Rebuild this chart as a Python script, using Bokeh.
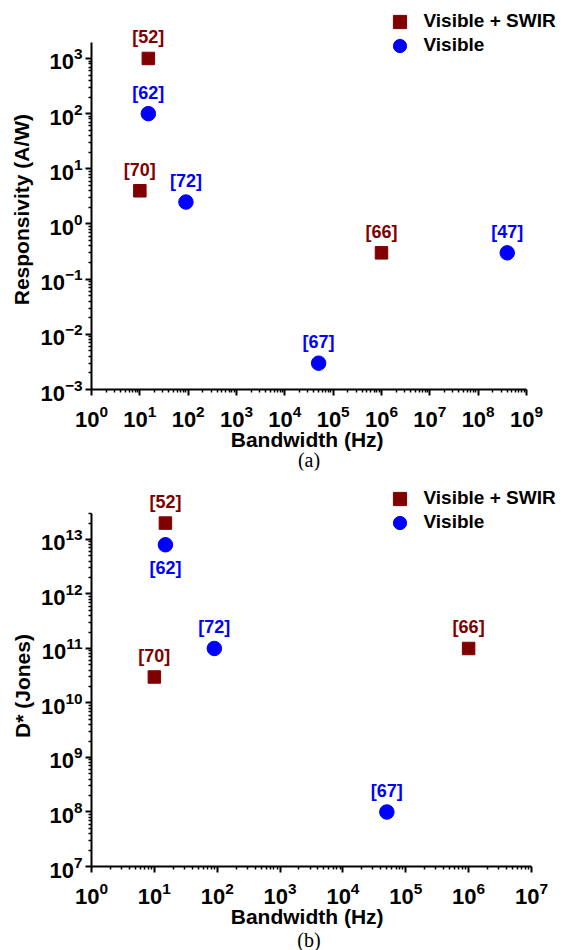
from bokeh.plotting import figure
from bokeh.models import (ColumnDataSource, Range1d, FixedTicker, LogTickFormatter,
                          LabelSet, Legend, LegendItem, Div)
from bokeh.core.properties import value
from bokeh.layouts import column
from bokeh.embed import file_html
from bokeh.resources import INLINE

# ---------------- data ----------------
# Panel (a): Responsivity (A/W) vs Bandwidth (Hz)
a_swir_bw = [15, 10, 1e6]
a_swir_resp = [1000, 4, 0.3]
a_swir_ref = ["[52]", "[70]", "[66]"]
a_vis_bw = [15, 90, 5e4, 4e8]
a_vis_resp = [100, 2.5, 0.003, 0.3]
a_vis_ref = ["[62]", "[72]", "[67]", "[47]"]

# Panel (b): D* (Jones) vs Bandwidth (Hz)
b_swir_bw = [15, 10, 1e6]
b_swir_dstar = [2e13, 3e10, 1e11]
b_swir_ref = ["[52]", "[70]", "[66]"]
b_vis_bw = [15, 90, 5e4]
b_vis_dstar = [8e12, 1e11, 1e8]
b_vis_ref = ["[62]", "[72]", "[67]"]

series_names = ["Visible + SWIR", "Visible"]

a_x_ticks = [10.0 ** k for k in range(0, 10)]
a_y_ticks = [10.0 ** k for k in range(-3, 4)]
b_x_ticks = [10.0 ** k for k in range(0, 8)]
b_y_ticks = [10.0 ** k for k in range(7, 14)]

# axis extents as drawn in the reference
a_x_bounds = (1, 1e9)
a_y_bounds = (1e-3, 1950)
b_x_bounds = (1, 1e7)
b_y_bounds = (1e7, 3e13)

# labels drawn below their marker (rest are above)
b_below = ["[62]"]

FONT = "Liberation Sans"
RED = "#800000"
BLUE = "#0000ff"
W = 569


def pad(n):
    # non-breaking spaces that centre a title under the drawn axis extent
    return "\u00a0" * n


def minor_list(lo, hi):
    out = []
    for k in range(-20, 20):
        for m in range(2, 10):
            v = m * 10.0 ** k
            if lo < v < hi * 1.0001:
                out.append(v)
    return out


def make_panel(xr, yr, xb, yb, xt, yt, swir, vis, ylabel, height, b_bottom, below=()):
    p = figure(width=W, height=height, x_axis_type="log", y_axis_type="log",
               x_range=Range1d(*xr), y_range=Range1d(*yr), output_backend="svg",
               toolbar_location=None, min_border_left=91, min_border_right=0,
               min_border_top=0, min_border_bottom=b_bottom)
    p.outline_line_color = None
    p.grid.visible = False
    p.background_fill_color = "white"
    p.border_fill_color = "white"

    p.xaxis.ticker = FixedTicker(ticks=xt, minor_ticks=minor_list(*xb))
    p.yaxis.ticker = FixedTicker(ticks=yt, minor_ticks=minor_list(*yb))
    p.xaxis.bounds = xb
    p.yaxis.bounds = yb
    for ax in (p.xaxis[0], p.yaxis[0]):
        ax.formatter = LogTickFormatter()
        ax.axis_line_width = 2
        ax.axis_line_color = "black"
        ax.major_tick_line_width = 2
        ax.minor_tick_line_width = 1.5
        ax.major_tick_out = 6
        ax.major_tick_in = 0
        ax.minor_tick_out = 3
        ax.minor_tick_in = 0
        ax.major_label_text_font = FONT
        ax.major_label_text_font_style = "bold"
        ax.major_label_text_font_size = "22px"
        ax.major_label_text_color = "black"
        ax.axis_label_text_font = FONT
        ax.axis_label_text_font_style = "bold"
        ax.axis_label_text_font_size = "21px"
        ax.axis_label_text_color = "black"
    p.xaxis.axis_label = "Bandwidth (Hz)" + pad(8)
    p.yaxis.axis_label = ylabel
    p.xaxis.major_label_standoff = 9
    p.xaxis.axis_label_standoff = -2
    p.yaxis.major_label_standoff = 3
    p.yaxis.axis_label_standoff = 4

    renderers = []
    for (xs, ys, refs), marker, color, size in ((swir, "square", RED, 12.5),
                                                 (vis, "circle", BLUE, 14.5)):
        dy = [-29 if r in below else 15 for r in refs]
        src = ColumnDataSource(dict(x=xs, y=ys, ref=refs, dy=dy))
        r = p.scatter("x", "y", source=src, marker=marker, size=size,
                      fill_color=color, line_color=color)
        renderers.append(r)
        p.add_layout(LabelSet(x="x", y="y", text="ref", source=src, y_offset="dy",
                              text_align="center", text_baseline="alphabetic",
                              text_color=color, text_font=value(FONT),
                              text_font_style="bold", text_font_size="18px"))

    for name, rend, vy in ((series_names[0], renderers[0], 351.5),
                           (series_names[1], renderers[1], 327.5)):
        leg = Legend(items=[LegendItem(label=name, renderers=[rend])],
                     location=(291.5, vy), orientation="vertical", padding=0, margin=0,
                     spacing=0, glyph_width=33, glyph_height=33, label_height=33,
                     label_standoff=8, label_text_font=FONT, label_text_font_style="bold",
                     label_text_font_size="19px", label_text_color="black",
                     border_line_color=None, background_fill_alpha=0)
        p.add_layout(leg)
    return p


def caption(text, height, lift):
    return Div(text=f'<span style="position:relative; top:{-lift}px">{text}</span>',
               width=436, height=height, margin=(0, 0, 0, 91),
               styles={"font-family": "Liberation Serif", "font-size": "20px",
                       "line-height": f"{height}px", "text-align": "center",
                       "color": "black"})


pa = make_panel((1, 10 ** 9.89), (1e-3, 10 ** 4.051), a_x_bounds, a_y_bounds,
                a_x_ticks, a_y_ticks,
                (a_swir_bw, a_swir_resp, a_swir_ref), (a_vis_bw, a_vis_resp, a_vis_ref),
                "Responsivity (A/W)" + pad(5), 458, 69)
pb = make_panel((1, 10 ** 7.605), (1e7, 10 ** 14.266), b_x_bounds, b_y_bounds,
                b_x_ticks, b_y_ticks,
                (b_swir_bw, b_swir_dstar, b_swir_ref), (b_vis_bw, b_vis_dstar, b_vis_ref),
                "D* (Jones)" + pad(6), 465, 69, below=b_below)

layout = column(pa, caption("(a)", 12, 4), pb, caption("(b)", 15, 2), spacing=0)
open("out.html", "w").write(file_html(layout, INLINE))
